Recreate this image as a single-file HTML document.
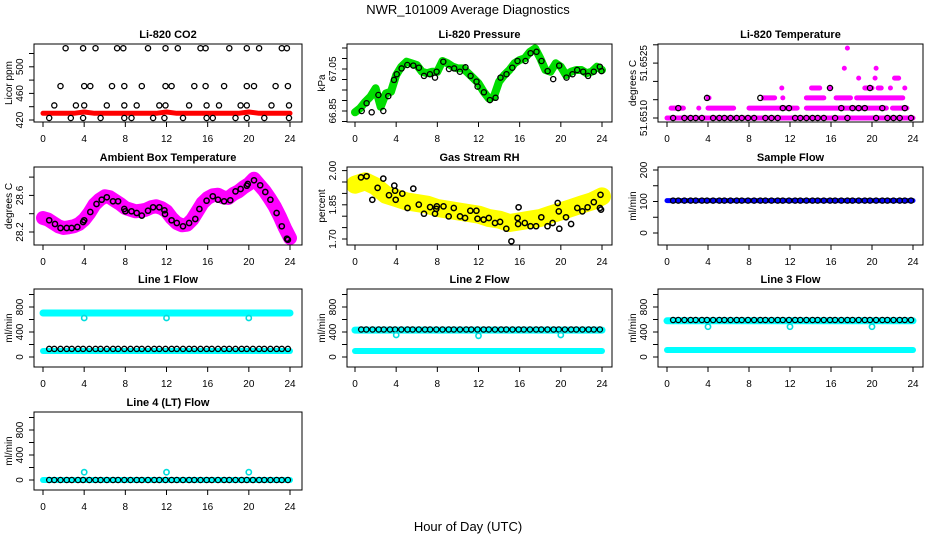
<!DOCTYPE html>
<html><head><meta charset="utf-8">
<style>
html,body{margin:0;padding:0;background:#fff;}
svg{display:block;font-family:"Liberation Sans",Arial,sans-serif;}
</style></head>
<body>
<svg id="chart" width="936" height="540" viewBox="0 0 936 540" xmlns="http://www.w3.org/2000/svg">
<rect x="0" y="0" width="936" height="540" fill="#fff"/>
<text x="468" y="14" text-anchor="middle" font-size="13">NWR_101009  Average Diagnostics</text>
<text x="468" y="531" text-anchor="middle" font-size="13">Hour of Day (UTC)</text>
</svg>
<script>
// ---------- shared category arrays ----------
const xTicks = [0,4,8,12,16,20,24];
const hourly = [0,1,2,3,4,5,6,7,8,9,10,11,12,13,14,15,16,17,18,19,20,21,22,23,24];
const halfHours = [0,0.5,1,1.5,2,2.5,3,3.5,4,4.5,5,5.5,6,6.5,7,7.5,8,8.5,9,9.5,10,10.5,11,11.5,12,12.5,13,13.5,14,14.5,15,15.5,16,16.5,17,17.5,18,18.5,19,19.5,20,20.5,21,21.5,22,22.5,23,23.5,24];
const blackHours = [0.6,1.1,1.7,2.3,2.8,3.4,3.9,4.5,5.1,5.6,6.2,6.8,7.3,7.9,8.5,9.1,9.6,10.2,10.8,11.3,11.9,12.5,13.0,13.6,14.2,14.7,15.3,15.9,16.4,17.0,17.6,18.1,18.7,19.3,19.8,20.4,21.0,21.5,22.1,22.7,23.2,23.8];

// ---------- Li-820 CO2 ----------
const co2Red = [430,430,430,430,432,430,430,430,430,430,430,430,432,430,430,430,430,430,430,430,432,430,430,430,430];
const co2BlackHours = [2.2,3.9,5.1,7.2,7.8,10.2,11.9,13.1,15.3,15.8,18.1,19.8,21,23.2,23.7,
 1.7,4.0,4.6,6.7,7.9,9.6,11.9,12.5,14.7,15.8,17.6,19.8,20.5,22.6,23.8,
 1.1,3.2,4.0,6.2,7.9,9.1,11.3,11.9,14.2,15.9,17.1,19.2,19.8,22.2,23.9,
 0.6,2.7,3.9,5.6,7.9,8.6,10.7,11.8,13.6,15.9,16.5,18.7,19.8,21.5,23.9];
const co2BlackVals = [528,528,528,528,528,528,528,528,528,528,528,528,528,528,528,
 471,471,471,471,471,471,471,471,471,471,471,471,471,471,471,
 442,442,442,442,442,442,442,442,442,442,442,442,442,442,442,
 423,423,423,423,423,423,423,423,423,423,423,423,423,423,423];

// ---------- Li-820 Pressure ----------
const presGreen = [66.844,66.863,66.894,66.918,66.958,66.870,66.934,66.942,67.021,67.061,67.085,67.077,67.069,67.037,67.030,67.037,67.037,67.088,67.077,67.061,67.053,67.053,67.030,67.006,66.982,66.942,66.910,66.918,66.990,67.021,67.045,67.077,67.093,67.101,67.132,67.148,67.101,67.045,67.037,67.077,67.061,67.021,67.037,67.045,67.045,67.030,67.037,67.061,67.045];
const presBlackHours = [0.65,1.13,1.62,2.27,2.75,3.24,3.79,4.05,4.53,5.08,5.66,6.21,6.70,7.28,7.77,7.93,8.58,9.13,9.64,10.19,10.74,11.23,11.81,11.91,12.52,13.11,13.66,14.14,14.72,15.28,15.79,16.57,17.06,17.64,18.12,18.71,19.26,19.84,20.55,21.13,21.59,22.17,22.65,23.2,23.79,23.95];
const presBlackVals = [66.850,66.887,66.844,66.926,66.850,66.921,66.998,67.025,67.053,67.069,67.066,67.056,67.017,67.025,67.009,67.037,67.085,67.050,67.053,67.037,67.058,67.017,66.990,66.966,66.939,66.902,66.913,67.009,67.025,67.056,67.088,67.088,67.125,67.132,67.088,67.040,67.002,67.066,67.009,67.025,67.045,67.037,67.017,67.037,67.061,67.040];

// ---------- Li-820 Temperature ----------
const tempSegStart = [0,0.4,3.1,4.0,8.0,13.6,22.0, 4.0,9.4,11.3,13.6,16.5,18.5, 11.2,14.1,15.9,19.3,20.6,21.8,23.2, 18.7,20.3,22.2, 17.3,20.4, 17.6];
const tempSegEnd   = [24,1.6,3.1,6.5,12.7,21.4,23.4, 4.1,10.5,11.3,15.3,17.9,23.0, 11.2,14.9,15.9,20.0,20.9,21.8,23.2, 18.7,20.3,22.6, 17.3,20.4, 17.6];
const tempSegVal   = [51.65100,51.65127,51.65127,51.65127,51.65127,51.65127,51.65127, 51.65155,51.65155,51.65155,51.65155,51.65155,51.65155, 51.65182,51.65182,51.65182,51.65182,51.65182,51.65182,51.65182, 51.65209,51.65209,51.65209, 51.65236,51.65236, 51.65291];
const tempBlackVals = [51.65100,51.65127,51.65100,51.65100,51.65100,51.65100,51.65155,51.65100,51.65100,51.65100,51.65100,51.65100,51.65100,51.65100,51.65100,51.65155,51.65100,51.65100,51.65100,51.65127,51.65127,51.65100,51.65100,51.65100,51.65100,51.65100,51.65100,51.65182,51.65100,51.65127,51.65100,51.65127,51.65127,51.65127,51.65182,51.65100,51.65127,51.65100,51.65100,51.65100,51.65127,51.65100];

// ---------- Ambient Box Temperature ----------
const ambMagenta = [28.353,28.335,28.298,28.262,28.244,28.251,28.262,28.287,28.335,28.408,28.499,28.553,28.590,28.579,28.542,28.506,28.462,28.444,28.426,28.433,28.444,28.470,28.481,28.462,28.426,28.353,28.298,28.273,28.280,28.335,28.426,28.517,28.572,28.601,28.608,28.579,28.572,28.615,28.644,28.688,28.725,28.783,28.717,28.652,28.572,28.481,28.371,28.244,28.134];
const ambBlackHours = [0.6,1.17,1.7,2.3,2.78,3.33,3.9,4.0,4.6,5.2,5.7,6.2,6.8,7.3,7.9,8.0,8.6,9.1,9.6,10.2,10.7,11.3,11.8,11.85,12.5,13.0,13.6,14.2,14.8,15.2,15.9,16.5,17.0,17.6,18.2,18.7,19.2,19.8,19.9,20.5,21.1,21.6,22.1,22.7,23.2,23.7,23.8];
const ambBlackVals = [28.328,28.287,28.244,28.244,28.244,28.255,28.309,28.328,28.419,28.506,28.553,28.579,28.535,28.535,28.451,28.426,28.426,28.408,28.379,28.433,28.470,28.470,28.437,28.397,28.328,28.298,28.262,28.298,28.342,28.451,28.542,28.590,28.553,28.535,28.546,28.644,28.670,28.706,28.725,28.765,28.710,28.637,28.553,28.408,28.262,28.127,28.116];

// ---------- Gas Stream RH ----------
const rhYellow = [1.938,1.953,1.931,1.894,1.880,1.865,1.858,1.851,1.836,1.829,1.821,1.814,1.807,1.792,1.785,1.770,1.777,1.785,1.792,1.807,1.821,1.836,1.851,1.865,1.887];
const rhBlackHours = [0.58,1.13,1.68,2.2,2.75,3.3,3.82,3.9,3.95,4.6,5.1,5.66,6.2,6.7,7.3,7.77,7.9,7.95,8.6,9.1,9.6,10.2,10.7,11.2,11.8,11.9,12.5,13.0,13.6,14.1,14.7,15.2,15.8,15.9,15.85,16.5,17.05,17.6,18.1,18.7,19.2,19.7,19.8,19.85,20.5,21.0,21.6,22.1,22.6,23.2,23.8,23.85,23.9];
const rhBlackVals = [1.970,1.975,1.872,1.924,1.965,1.892,1.934,1.912,1.872,1.899,1.836,1.921,1.851,1.811,1.840,1.811,1.832,1.843,1.843,1.799,1.836,1.799,1.792,1.824,1.824,1.789,1.785,1.792,1.770,1.775,1.745,1.690,1.792,1.839,1.766,1.770,1.756,1.756,1.795,1.756,1.770,1.858,1.821,1.745,1.795,1.766,1.836,1.821,1.839,1.862,1.836,1.894,1.829];

// ---------- Sample Flow ----------
const sampleBlue = [103,103,103,103,103,103,103,103,103,103,103,103,103,103,103,103,103,103,103,103,103,103,103,103,103];
const sampleBlack = [103,103,103,103,103,103,103,103,103,103,103,103,103,103,103,103,103,103,103,103,103,103,103,103,103,103,103,103,103,103,103,103,103,103,103,103,103,103,103,103,103,103];

// ---------- Line flows ----------
const outlierHours = [4,12,20];
const line1CyanHi = [704,704,704,704,704,704,704,704,704,704,704,704,704,704,704,704,704,704,704,704,704,704,704,704,704];
const line1CyanLo = [96,96,96,96,96,96,96,96,96,96,96,96,96,96,96,96,96,96,96,96,96,96,96,96,96];
const line1Black = [130,130,130,130,130,130,130,130,130,130,130,130,130,130,130,130,130,130,130,130,130,130,130,130,130,130,130,130,130,130,130,130,130,130,130,130,130,130,130,130,130,130];
const line1Out = [624,624,624];
const line2CyanHi = [430,430,430,430,430,430,430,430,430,430,430,430,430,430,430,430,430,430,430,430,430,430,430,430,430];
const line2CyanLo = [96,96,96,96,96,96,96,96,96,96,96,96,96,96,96,96,96,96,96,96,96,96,96,96,96];
const line2Black = [440,440,440,440,440,440,440,440,440,440,440,440,440,440,440,440,440,440,440,440,440,440,440,440,440,440,440,440,440,440,440,440,440,440,440,440,440,440,440,440,440,440];
const line2Out = [352,340,352];
const line3CyanHi = [580,580,580,580,580,580,580,580,580,580,580,580,580,580,580,580,580,580,580,580,580,580,580,580,580];
const line3CyanLo = [112,112,112,112,112,112,112,112,112,112,112,112,112,112,112,112,112,112,112,112,112,112,112,112,112];
const line3Black = [592,592,592,592,592,592,592,592,592,592,592,592,592,592,592,592,592,592,592,592,592,592,592,592,592,592,592,592,592,592,592,592,592,592,592,592,592,592,592,592,592,592];
const line3Out = [485,485,485];
const line4Cyan = [0,0,0,0,0,0,0,0,0,0,0,0,0,0,0,0,0,0,0,0,0,0,0,0,0];
const line4Black = [0,0,0,0,0,0,0,0,0,0,0,0,0,0,0,0,0,0,0,0,0,0,0,0,0,0,0,0,0,0,0,0,0,0,0,0,0,0,0,0,0,0];
const line4Out = [125,125,125];

// ---------- layout ----------
const NS = "http://www.w3.org/2000/svg";
const svg = document.getElementById('chart');
const cols = [{l:34,r:302,x0:43,x24:290},{l:347,r:612,x0:355,x24:602},{l:658,r:923,x0:667,x24:913}];
const rows = [{t:44,b:122},{t:167,b:245},{t:289,b:367},{t:412,b:490}];
let clipId = 0;

function makePanel(col,row,title,ylab,v0,p0,slope,yticks,ylabels,pname){
  const c = cols[col], r = rows[row];
  const g = document.createElementNS(NS,'g');
  
  
  svg.appendChild(g);
  const P = {g:g, xs:h => c.x0 + (c.x24-c.x0)*h/24, ys:v => p0 - (v-v0)*slope};
  const t = document.createElementNS(NS,'text');
  
  
  t.setAttribute('x', (c.l+c.r)/2); t.setAttribute('y', r.t-6);
  t.setAttribute('text-anchor','middle'); t.setAttribute('font-size','11'); t.setAttribute('font-weight','bold');
  t.textContent = title; g.appendChild(t);
  const yl = document.createElementNS(NS,'text');
  
  
  const yc = (r.t+r.b)/2;
  yl.setAttribute('transform','translate('+(c.l-22)+','+yc+') rotate(-90)');
  yl.setAttribute('text-anchor','middle'); yl.setAttribute('font-size','10');
  yl.textContent = ylab; g.appendChild(yl);
  xTicks.forEach(h => {
    const x = P.xs(h);
    const tl = document.createElementNS(NS,'line');
    
    
    tl.setAttribute('x1',x); tl.setAttribute('x2',x); tl.setAttribute('y1',r.b); tl.setAttribute('y2',r.b+5);
    tl.setAttribute('stroke','#000'); g.appendChild(tl);
    const tx = document.createElementNS(NS,'text');
    
    
    tx.setAttribute('x',x); tx.setAttribute('y',r.b+20);
    tx.setAttribute('text-anchor','middle'); tx.setAttribute('font-size','10');
    tx.textContent = h; g.appendChild(tx);
  });
  yticks.forEach(v => {
    const y = P.ys(v);
    const tl = document.createElementNS(NS,'line');
    
    
    tl.setAttribute('x1',c.l-5); tl.setAttribute('x2',c.l); tl.setAttribute('y1',y); tl.setAttribute('y2',y);
    tl.setAttribute('stroke','#000'); g.appendChild(tl);
  });
  ylabels.forEach(lb => {
    const y = P.ys(parseFloat(lb));
    const tx = document.createElementNS(NS,'text');
    
    
    tx.setAttribute('transform','translate('+(c.l-11)+','+y+') rotate(-90)');
    tx.setAttribute('text-anchor','middle'); tx.setAttribute('font-size','10');
    tx.textContent = lb; g.appendChild(tx);
  });
  clipId++;
  const cp = document.createElementNS(NS,'clipPath');
  cp.setAttribute('id','clip'+clipId);
  const cr = document.createElementNS(NS,'rect');
  cr.setAttribute('x',c.l); cr.setAttribute('y',r.t); cr.setAttribute('width',c.r-c.l); cr.setAttribute('height',r.b-r.t);
  cp.appendChild(cr); g.appendChild(cp);
  const plot = document.createElementNS(NS,'g');
  
  
  plot.setAttribute('clip-path','url(#clip'+clipId+')');
  g.appendChild(plot);
  P.plot = plot;
  P.box = function(){
    const b = document.createElementNS(NS,'rect');
    
    
    b.setAttribute('x',c.l); b.setAttribute('y',r.t); b.setAttribute('width',c.r-c.l); b.setAttribute('height',r.b-r.t);
    b.setAttribute('fill','none'); b.setAttribute('stroke','#000'); b.setAttribute('stroke-width','1');
    g.appendChild(b);
  };
  return P;
}

function band(P, hrs, vals, color, width, name){
  const pts = hrs.map((h,i) => P.xs(h).toFixed(1)+','+P.ys(vals[i]).toFixed(1)).join(' ');
  const pl = document.createElementNS(NS,'polyline');
  
  
  pl.setAttribute('points', pts);
  pl.setAttribute('fill','none'); pl.setAttribute('stroke',color);
  pl.setAttribute('stroke-width',width); pl.setAttribute('stroke-linecap','round'); pl.setAttribute('stroke-linejoin','round');
  P.plot.appendChild(pl);
}
function points(P, hrs, vals, color, name, sw){
  hrs.forEach((h,i) => {
    const ci = document.createElementNS(NS,'circle');
    
    
    ci.setAttribute('cx', P.xs(h).toFixed(1)); ci.setAttribute('cy', P.ys(vals[i]).toFixed(1));
    ci.setAttribute('r', 2.6); ci.setAttribute('fill','none'); ci.setAttribute('stroke',color);
    ci.setAttribute('stroke-width', sw || 1.3);
    P.plot.appendChild(ci);
  });
}
function segs(P, s, e, v, color, width, name){
  s.forEach((h,i) => {
    const ln = document.createElementNS(NS,'line');
    
    
    ln.setAttribute('x1', P.xs(h)); ln.setAttribute('x2', P.xs(e[i]));
    ln.setAttribute('y1', P.ys(v[i])); ln.setAttribute('y2', P.ys(v[i]));
    ln.setAttribute('stroke', color); ln.setAttribute('stroke-width', width); ln.setAttribute('stroke-linecap','round');
    P.plot.appendChild(ln);
  });
}

let P = makePanel(0,0,'Li-820 CO2','Licor ppm',420,120,0.665,[420,440,460,480,500,520],['420','460','500'],'co2');
band(P, hourly, co2Red, '#ff0000', 5, 'co2-red-series');
points(P, co2BlackHours, co2BlackVals, '#000', 'co2-black-point');
P.box();

P = makePanel(1,0,'Li-820 Pressure','kPa',66.85,111,210,[66.80,66.85,66.90,66.95,67.00,67.05,67.10,67.15],['66.85','67.05'],'pressure');
band(P, halfHours, presGreen, '#00dd00', 8, 'pressure-green-series');
points(P, presBlackHours, presBlackVals, '#000', 'pressure-black-point');
P.box();

P = makePanel(2,0,'Li-820 Temperature','degrees C',51.6510,118,36600,[51.6510,51.6515,51.6520,51.6525,51.6530],['51.6510','51.6525'],'li820-temperature');
segs(P, tempSegStart, tempSegEnd, tempSegVal, '#ff00ff', 5, 'temperature-magenta-series');
points(P, blackHours, tempBlackVals, '#000', 'temperature-black-point');
P.box();

P = makePanel(0,1,'Ambient Box Temperature','degrees C',28.2,232,91.5,[28.2,28.4,28.6,28.8],['28.2','28.6'],'ambient-temperature');
band(P, halfHours, ambMagenta, '#ff00ff', 14, 'ambient-magenta-series');
points(P, ambBlackHours, ambBlackVals, '#000', 'ambient-black-point', 1.5);
P.box();

P = makePanel(1,1,'Gas Stream RH','percent',1.70,239,228,[1.70,1.75,1.80,1.85,1.90,1.95,2.00],['1.70','1.85','2.00'],'gas-stream-rh');
band(P, hourly, rhYellow, '#ffff00', 18, 'rh-yellow-series');
points(P, rhBlackHours, rhBlackVals, '#000', 'rh-black-point', 1.5);
P.box();

P = makePanel(2,1,'Sample Flow','ml/min',0,233,0.315,[0,50,100,150,200],['0','100','200'],'sample-flow');
band(P, hourly, sampleBlue, '#0000ff', 5, 'sample-blue-series');
points(P, blackHours, sampleBlack, '#000', 'sample-black-point');
P.box();

const flowTicks = [0,200,400,600,800,1000];
const flowLabels = ['0','400','800'];
P = makePanel(0,2,'Line 1 Flow','ml/min',0,357,0.0625,flowTicks,flowLabels,'line1-flow');
band(P, hourly, line1CyanHi, '#00ffff', 7, 'line1-cyan-high');
band(P, hourly, line1CyanLo, '#00ffff', 6, 'line1-cyan-low');
points(P, blackHours, line1Black, '#000', 'line1-black-point');
points(P, outlierHours, line1Out, '#00dddd', 'line1-cyan-outlier', 1.6);
P.box();
P = makePanel(1,2,'Line 2 Flow','ml/min',0,357,0.0625,flowTicks,flowLabels,'line2-flow');
band(P, hourly, line2CyanHi, '#00ffff', 7, 'line2-cyan-high');
band(P, hourly, line2CyanLo, '#00ffff', 6, 'line2-cyan-low');
points(P, blackHours, line2Black, '#000', 'line2-black-point');
points(P, outlierHours, line2Out, '#00dddd', 'line2-cyan-outlier', 1.6);
P.box();
P = makePanel(2,2,'Line 3 Flow','ml/min',0,357,0.0625,flowTicks,flowLabels,'line3-flow');
band(P, hourly, line3CyanHi, '#00ffff', 7, 'line3-cyan-high');
band(P, hourly, line3CyanLo, '#00ffff', 6, 'line3-cyan-low');
points(P, blackHours, line3Black, '#000', 'line3-black-point');
points(P, outlierHours, line3Out, '#00dddd', 'line3-cyan-outlier', 1.6);
P.box();
P = makePanel(0,3,'Line 4 (LT) Flow','ml/min',0,480,0.0625,flowTicks,flowLabels,'line4-flow');
band(P, hourly, line4Cyan, '#00ffff', 6, 'line4-cyan-series');
points(P, blackHours, line4Black, '#000', 'line4-black-point');
points(P, outlierHours, line4Out, '#00dddd', 'line4-cyan-outlier', 1.6);
P.box();
</script>
</body></html>
